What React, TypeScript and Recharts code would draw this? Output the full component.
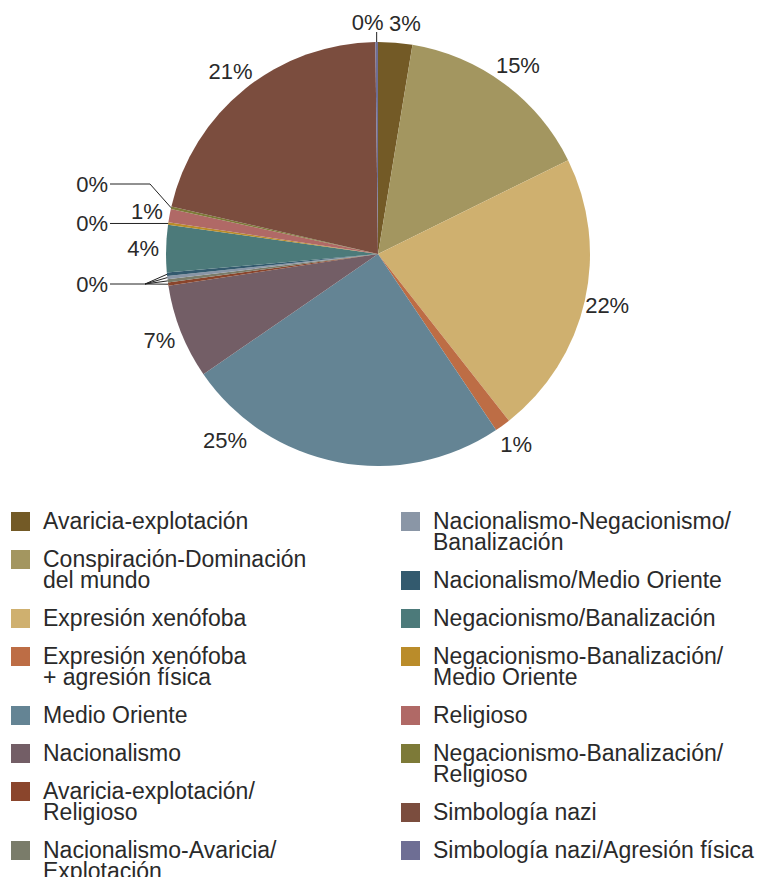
import { PieChart, Pie, Legend } from "recharts";

// slice order, clockwise from 12 o'clock
const categories = [
  "Avaricia-explotación",
  "Conspiración-Dominación\ndel mundo",
  "Expresión xenófoba",
  "Expresión xenófoba\n+ agresión física",
  "Medio Oriente",
  "Nacionalismo",
  "Avaricia-explotación/\nReligioso",
  "Nacionalismo-Avaricia/\nExplotación",
  "Nacionalismo-Negacionismo/\nBanalización",
  "Nacionalismo/Medio Oriente",
  "Negacionismo/Banalización",
  "Negacionismo-Banalización/\nMedio Oriente",
  "Religioso",
  "Negacionismo-Banalización/\nReligioso",
  "Simbología nazi",
  "Simbología nazi/Agresión física",
];

const shares = [2.6, 15.1, 21.7, 1.2, 24.8, 7.2, 0.25, 0.25, 0.25, 0.25, 3.6, 0.2, 1.0, 0.2, 21.2, 0.2];

const colors = [
  "#735a26", "#a39660", "#cfb06f", "#bd6d45", "#648494", "#735e66", "#8a452c", "#7a7c6a",
  "#8a96a6", "#335a6e", "#4c7a7a", "#ba8c2a", "#b06966", "#7d7a38", "#7b4d3e", "#6e6e94",
];

const data = categories.map((name, i) => ({ name, value: shares[i], fill: colors[i] }));

const FONT = '"Liberation Sans", Arial, sans-serif';
const TEXT = "#2a2a2a";
const RAD = Math.PI / 180;

const renderLabel = (props: any) => {
  const { cx, cy, midAngle, outerRadius, percent, index } = props;
  const pct = Math.round(percent * 100) + "%";
  const at = (r: number, a: number) => [cx + r * Math.cos(-a * RAD), cy + r * Math.sin(-a * RAD)];
  const [ex, ey] = at(outerRadius, midAngle);
  const txt = (x: number, y: number, anchor = "middle") => (
    <text x={x} y={y} textAnchor={anchor} dominantBaseline="central" fontSize={22} fontFamily={FONT} fill={TEXT}>
      {pct}
    </text>
  );
  const line = (pts: number[][]) => (
    <polyline points={pts.map((p) => p.join(",")).join(" ")} fill="none" stroke="#222" strokeWidth={1} />
  );

  if (index === 15) {
    return (
      <g>
        {line([[ex, ey], [ex, ey - 10]])}
        {txt(ex - 9, ey - 20)}
      </g>
    );
  }
  if (index === 13) {
    return (
      <g>
        {line([[ex, ey], [cx - 228, cy - 70], [cx - 268, cy - 70]])}
        {txt(cx - 270, cy - 70, "end")}
      </g>
    );
  }
  if (index === 11) {
    return (
      <g>
        {line([[ex, ey], [cx - 268, ey]])}
        {txt(cx - 270, ey, "end")}
      </g>
    );
  }
  if (index >= 6 && index <= 9) {
    return (
      <g>
        {line([[ex, ey], [cx - 233, cy + 30]])}
        {index === 6 && line([[cx - 233, cy + 30], [cx - 268, cy + 30]])}
        {index === 6 && txt(cx - 270, cy + 30, "end")}
      </g>
    );
  }
  // a few labels sit off their slice's middle
  let a = midAngle;
  let r = outerRadius + 23;
  if (index === 4) {
    a = midAngle - 28.6;
    r = outerRadius + 29;
  }
  if (index === 0) {
    a = midAngle - 2;
    r = outerRadius + 20;
  }
  const [lx, ly] = at(r, a);
  return txt(lx, ly);
};

const renderLegend = (props: any) => {
  const items = [...(props.payload ?? [])].sort(
    (p: any, q: any) => categories.indexOf(p.value) - categories.indexOf(q.value)
  );
  const cols = [items.slice(0, 8), items.slice(8)];
  return (
    <div style={{ display: "flex", fontFamily: FONT, fontSize: 23, color: TEXT }}>
      {cols.map((col: any[], ci: number) => (
        <div key={ci} style={{ width: ci === 0 ? 390 : 364, flexShrink: 0 }}>
          {col.map((item: any) => (
            <div key={item.value} style={{ display: "flex", alignItems: "flex-start", marginBottom: 17 }}>
              <span
                style={{ width: 19, height: 19, background: item.color, marginTop: 1, flexShrink: 0 }}
              />
              <span style={{ marginLeft: 13, whiteSpace: "pre-line", lineHeight: "21px" }}>{item.value}</span>
            </div>
          ))}
        </div>
      ))}
    </div>
  );
};

export default function App() {
  return (
    <div style={{ width: 757, height: 869 }}>
      <PieChart width={757} height={877} margin={{ top: 0, right: 0, bottom: 0, left: 0 }}>
        <Pie
          data={data}
          dataKey="value"
          nameKey="name"
          cx={370}
          cy={246}
          outerRadius={212}
          startAngle={90}
          endAngle={-270}
          stroke="none"
          label={renderLabel}
          labelLine={false}
          isAnimationActive={false}
        />
        <Legend
          content={renderLegend}
          wrapperStyle={{ top: 503, left: 3, bottom: "auto", width: 754 }}
        />
      </PieChart>
    </div>
  );
}
